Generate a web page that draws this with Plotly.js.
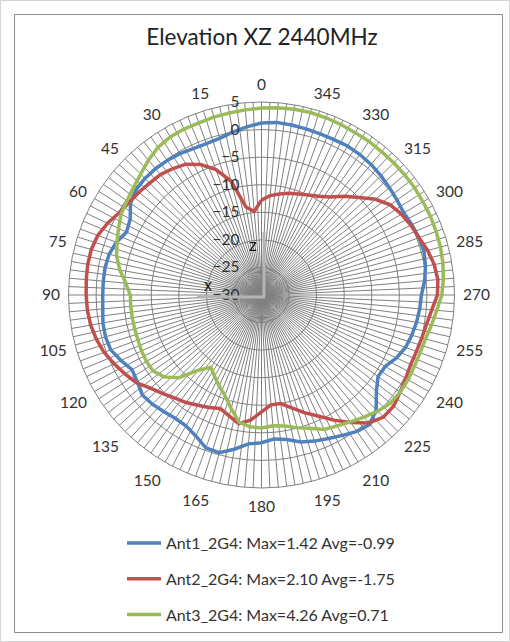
<!DOCTYPE html>
<html>
<head>
<meta charset="utf-8">
<script src="https://cdn.plot.ly/plotly-3.0.1.min.js"></script>
<style>html,body{margin:0;padding:0;background:#fff;}#chart{width:510px;height:642px;}</style>
</head>
<body>
<div id="chart"></div>
<script>
// Angles (degrees) at which values are read
const angles = [0,5,10,15,20,25,30,35,40,45,50,55,60,65,70,75,80,85,
  90,95,100,105,110,115,120,125,130,135,140,145,150,155,160,165,170,175,
  180,185,190,195,200,205,210,215,220,225,230,235,240,245,250,255,260,265,
  270,275,280,285,290,295,300,305,310,315,320,325,330,335,340,345,350,355];

const ant1 = [1.2,0.6,0.0,-0.6,-0.8,-0.7,-0.4,-0.2,-0.1,-0.1,-0.3,-1.0,-2.5,-3.0,-2.0,-1.4,-1.2,-1.2,
  -1.2,-1.1,-0.8,-0.7,-0.9,-1.9,-2.9,-2.5,-1.8,-2.0,-2.4,-2.7,-2.6,-1.8,-0.5,-0.4,-1.6,-2.9,
  -3.2,-3.8,-3.4,-2.4,-1.8,-1.3,-0.6,0.2,0.6,-0.6,-2.8,-4.2,-4.1,-3.0,-2.2,-1.8,-1.45,-1.2,
  -1.0,-0.3,0.2,0.5,0.4,0.1,-0.2,0.0,0.3,0.6,0.9,1.1,1.2,1.1,1.1,1.2,1.3,1.42];

const ant2 = [-12.8,-14.8,-13.8,-8.6,-5.8,-3.9,-2.6,-2.0,-1.5,-1.3,-1.0,-0.7,-0.2,0.8,1.6,1.95,2.0,1.9,
  1.8,1.7,1.45,1.0,0.4,-0.5,-1.4,-2.3,-3.7,-4.7,-5.6,-6.2,-6.9,-7.5,-8.1,-7.3,-6.3,-7.2,
  -8.8,-10.0,-10.0,-8.8,-7.3,-5.8,-3.8,-1.8,0.3,1.3,1.3,0.7,0.2,-0.15,-0.1,0.1,0.4,1.0,
  1.9,2.1,1.8,1.2,0.4,-0.1,-0.7,-1.5,-3.0,-5.0,-6.6,-8.3,-9.3,-10.0,-10.5,-10.9,-11.4,-11.9];

const ant3 = [3.9,3.7,3.5,3.4,3.2,3.2,3.1,2.7,1.9,1.0,0.3,-0.2,-0.6,-1.4,-2.1,-2.8,-3.9,-5.3,
  -6.2,-6.2,-6.2,-6.2,-6.15,-6.0,-5.9,-6.0,-6.9,-8.8,-12.2,-14.0,-13.0,-11.8,-10.6,-8.7,-6.6,-6.0,
  -5.9,-6.2,-5.9,-5.1,-4.3,-3.1,-2.6,-1.9,-1.1,-0.2,0.5,0.7,0.7,0.6,0.6,0.8,1.3,1.9,
  2.7,3.1,3.4,3.6,3.7,3.8,3.8,3.9,3.9,3.9,3.9,4.0,4.0,4.1,4.2,4.26,4.2,4.1];

const seriesNames = ['Ant1_2G4: Max=1.42 Avg=-0.99','Ant2_2G4: Max=2.10 Avg=-1.75','Ant3_2G4: Max=4.26 Avg=0.71'];
const seriesColors = ['#4F81BD','#C0504D','#9BBB59'];
const angleLabels = [0,15,30,45,60,75,90,105,120,135,150,165,180,195,210,225,240,255,270,285,300,315,330,345];
const radialTicks = [-30,-25,-20,-15,-10,-5,0,5];

const W = 510, H = 642;
const px = x => x / W;
const py = y => 1 - y / H;

// spokes every 2.5 degrees, labels only on multiples of 15
const spokes = [], spokeText = [];
for (let a = 0; a < 360; a += 2.5) {
  spokes.push(a);
  spokeText.push(angleLabels.indexOf(a) >= 0 ? String(a) : '');
}

const close = arr => arr.concat([arr[0]]);
const data = [ant1, ant2, ant3].map((vals, i) => ({
  type: 'scatterpolar',
  mode: 'lines',
  r: close(vals),
  theta: close(angles),
  name: seriesNames[i],
  legendgroup: 'g' + i,
  line: {color: seriesColors[i], width: 3.5},
  hoverinfo: 'skip'
}));

const cx = 261.5, cy = 295, R = 193;
const gridCol = '#808080';
const fontFam = 'Lato, "Liberation Sans", sans-serif';

const layout = {
  width: W, height: H,
  margin: {l: 0, r: 0, t: 0, b: 0},
  paper_bgcolor: '#ffffff',
  font: {family: fontFam, size: 15, color: '#333333'},
  title: {
    text: 'Elevation XZ 2440MHz',
    font: {size: 22.5, color: '#222222', family: fontFam},
    x: px(262), xanchor: 'center', xref: 'paper',
    y: py(37), yanchor: 'middle', yref: 'container'
  },
  showlegend: true,
  legend: {
    orientation: 'v',
    x: px(122), xanchor: 'left',
    y: py(526), yanchor: 'top',
    font: {size: 16, color: '#333333'},
    tracegroupgap: 12,
    itemwidth: 34,
    bgcolor: 'rgba(0,0,0,0)'
  },
  polar: {
    domain: {x: [px(cx - R), px(cx + R)], y: [py(cy + R), py(cy - R)]},
    bgcolor: '#ffffff',
    angularaxis: {
      rotation: 90,
      direction: 'counterclockwise',
      tickmode: 'array',
      tickvals: spokes,
      ticktext: spokeText,
      showgrid: true,
      gridcolor: gridCol,
      gridwidth: 1,
      showline: true,
      linecolor: gridCol,
      linewidth: 1,
      ticks: 'outside',
      ticklen: 5,
      tickcolor: 'rgba(0,0,0,0)',
      tickfont: {size: 15.5, color: '#333333'}
    },
    radialaxis: {
      range: [-30, 5],
      tickmode: 'array',
      tickvals: radialTicks,
      angle: 90,
      side: 'counterclockwise',
      tickangle: 90,
      showline: false,
      showgrid: true,
      gridcolor: gridCol,
      gridwidth: 1,
      ticks: 'outside',
      ticklen: 16,
      tickcolor: 'rgba(0,0,0,0)',
      tickfont: {size: 15.5, color: '#333333'}
    }
  },
  shapes: [
    {type: 'rect', xref: 'paper', yref: 'paper', x0: px(0.5), x1: px(509.5), y0: py(641.5), y1: py(0.5),
     line: {color: '#d4d4d4', width: 1}, fillcolor: 'rgba(0,0,0,0)'},
    {type: 'rect', xref: 'paper', yref: 'paper', x0: px(14.5), x1: px(502.5), y0: py(632.5), y1: py(14.5),
     line: {color: '#8c8c8c', width: 1}, fillcolor: 'rgba(0,0,0,0)'},
    {type: 'line', xref: 'paper', yref: 'paper', x0: px(264), x1: px(264), y0: py(297), y1: py(232),
     line: {color: '#b4b4b4', width: 3}},
    {type: 'line', xref: 'paper', yref: 'paper', x0: px(197), x1: px(265), y0: py(297), y1: py(297),
     line: {color: '#b4b4b4', width: 3}}
  ],
  annotations: [
    {text: 'z', xref: 'paper', yref: 'paper', x: px(253), y: py(245), showarrow: false,
     font: {size: 16, color: '#111111', family: '"Liberation Sans", sans-serif'}},
    {text: 'x', xref: 'paper', yref: 'paper', x: px(208), y: py(285), showarrow: false,
     font: {size: 16, color: '#111111', family: '"Liberation Sans", sans-serif'}}
  ]
};

Plotly.newPlot('chart', data, layout, {staticPlot: true, displayModeBar: false});
</script>
</body>
</html>
